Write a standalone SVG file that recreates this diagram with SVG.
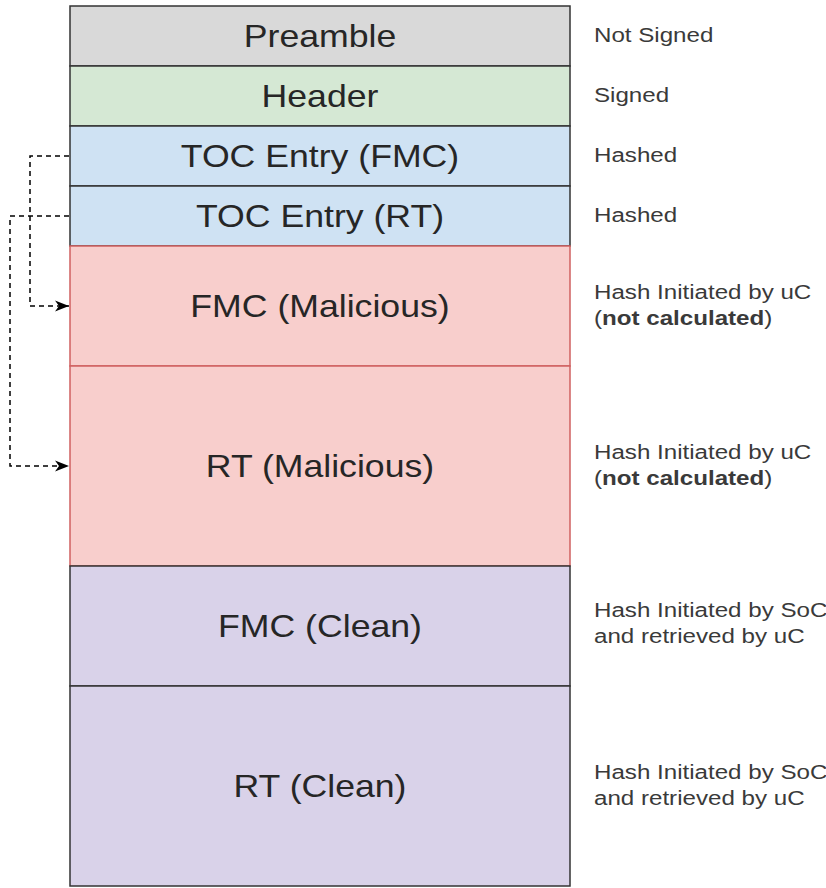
<svg xmlns="http://www.w3.org/2000/svg" width="826" height="888" viewBox="0 0 826 888">
<defs>
<style>
.t{font-family:"Liberation Sans",Arial,sans-serif;font-size:31px;fill:#262626;text-anchor:middle;dominant-baseline:central}
.l{font-family:"Liberation Sans",Arial,sans-serif;font-size:21px;fill:#3a3a3a}
.c{fill:none;stroke:#000;stroke-width:1.5;stroke-dasharray:5 4}
.k{stroke:#333;stroke-width:1.5}
.r{stroke:#d06060;stroke-width:1.5}
</style>
<marker id="ah" viewBox="0 0 14 14" refX="14" refY="7" markerWidth="14" markerHeight="14" markerUnits="userSpaceOnUse" orient="auto">
<path d="M0,1.5 L14,7 L0,12.5 L4,7 Z" fill="#000"/>
</marker>
</defs>
<rect width="826" height="888" fill="#fff"/>
<g id="preamble"><rect x="70" y="6" width="500" height="60" fill="#d9d9d9" class="k"/><text class="t" transform="translate(320,36) scale(1.15,1)">Preamble</text><text class="l" transform="translate(594,42) scale(1.15,1)">Not Signed</text></g>
<g id="header"><rect x="70" y="66" width="500" height="60" fill="#d5e8d4" class="k"/><text class="t" transform="translate(320,96) scale(1.15,1)">Header</text><text class="l" transform="translate(594,102) scale(1.15,1)">Signed</text></g>
<g id="toc-fmc"><rect x="70" y="126" width="500" height="60" fill="#cfe2f3" class="k"/><text class="t" transform="translate(320,156) scale(1.15,1)">TOC Entry (FMC)</text><text class="l" transform="translate(594,162) scale(1.15,1)">Hashed</text></g>
<g id="toc-rt"><rect x="70" y="186" width="500" height="60" fill="#cfe2f3" class="k"/><text class="t" transform="translate(320,216) scale(1.15,1)">TOC Entry (RT)</text><text class="l" transform="translate(594,222) scale(1.15,1)">Hashed</text></g>
<g id="fmc-mal"><rect x="70" y="246" width="500" height="120" fill="#f8cecc" class="r"/><text class="t" transform="translate(320,306) scale(1.15,1)">FMC (Malicious)</text><text class="l" transform="translate(594,299) scale(1.15,1)">Hash Initiated by uC</text><text class="l" transform="translate(594,325) scale(1.15,1)">(<tspan font-weight="bold">not calculated</tspan>)</text></g>
<g id="rt-mal"><rect x="70" y="366" width="500" height="200" fill="#f8cecc" class="r"/><text class="t" transform="translate(320,466) scale(1.15,1)">RT (Malicious)</text><text class="l" transform="translate(594,459) scale(1.15,1)">Hash Initiated by uC</text><text class="l" transform="translate(594,485) scale(1.15,1)">(<tspan font-weight="bold">not calculated</tspan>)</text></g>
<g id="fmc-clean"><rect x="70" y="566" width="500" height="120" fill="#d9d2e9" class="k"/><text class="t" transform="translate(320,626) scale(1.15,1)">FMC (Clean)</text><text class="l" transform="translate(594,617) scale(1.15,1)">Hash Initiated by SoC</text><text class="l" transform="translate(594,643) scale(1.15,1)">and retrieved by uC</text></g>
<g id="rt-clean"><rect x="70" y="686" width="500" height="200" fill="#d9d2e9" class="k"/><text class="t" transform="translate(320,786) scale(1.15,1)">RT (Clean)</text><text class="l" transform="translate(594,779) scale(1.15,1)">Hash Initiated by SoC</text><text class="l" transform="translate(594,805) scale(1.15,1)">and retrieved by uC</text></g>
<g id="connectors">
<path class="c" d="M69,156 H30 V306 H69" marker-end="url(#ah)"/>
<path class="c" d="M69,216 H10 V466 H69" marker-end="url(#ah)"/>
</g>
</svg>
